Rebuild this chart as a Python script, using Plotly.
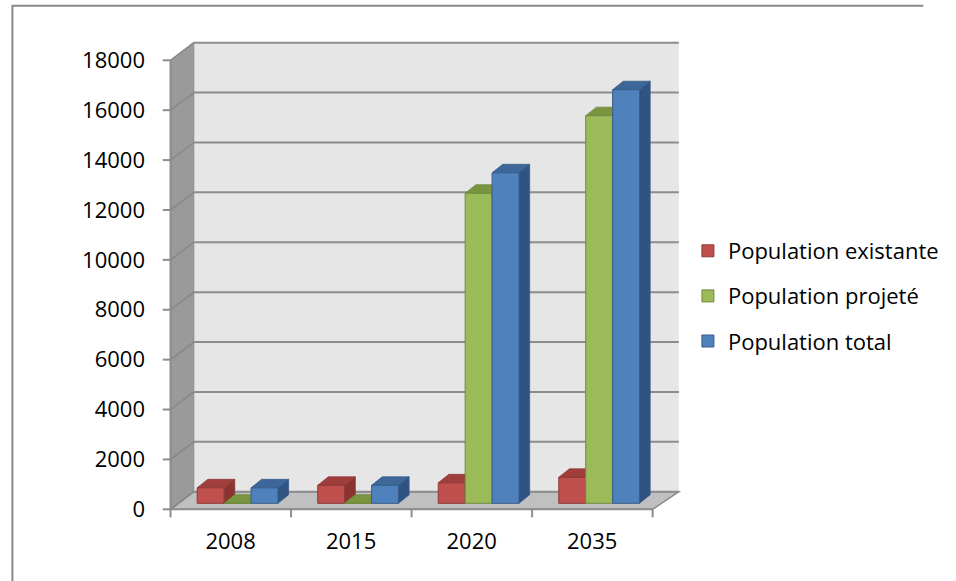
import plotly.graph_objects as go

# ---------------- data ----------------
categories = ["2008", "2015", "2020", "2035"]
pop_existante = [620, 720, 820, 1040]
pop_projete = [0, 0, 12430, 15540]
pop_total = [620, 720, 13250, 16580]
series_names = ["Population existante", "Population projeté", "Population total"]
y_ticks = list(range(0, 18001, 2000))

# ---------------- styling ----------------
front_colors = ["#c0504d", "#9bbb59", "#4f81bd"]
line_colors = ["#8c3836", "#71893f", "#385d8a"]
top_colors = ["#a03e3b", "#7a953f", "#3d6699"]
side_colors = ["#8a3330", "#6b8536", "#2f5382"]

W, H = 956, 581
PL, PR, PT, PB = 156, 702, 36, 520     # plot area in pixels
CAT_PX = 124.4                          # pixels per category
X0_PX = 240.2                           # pixel centre of first category (bar plane)
Y0_PX = 503.3                           # pixel of value 0 (bar plane)
PX_PER_UNIT = 449.0 / 18000.0           # vertical scale
BARGAP = 0.33


def xd(px):
    return (px - X0_PX) / CAT_PX


def yd(py):
    return (Y0_PX - py) / PX_PER_UNIT


def dxu(px):
    return px / CAT_PX


def dyu(px):
    return px / PX_PER_UNIT


def pxp(px):
    return (px - PL) / (PR - PL)


def pyp(py):
    return (PB - py) / (PB - PT)


n = len(categories)
ymax = y_ticks[-1]
# front plane (axes) relative to bar plane
f_dx, f_dy = dxu(-7), dyu(-6)
fl = -0.5 + f_dx
fr = n - 0.5 + f_dx
# back plane relative to front plane
xb_l = fl + dxu(24)
xb_r = fr + dxu(27)
b_dy = dyu(17.6)

fig = go.Figure()
series = [pop_existante, pop_projete, pop_total]
for k, (name, vals) in enumerate(zip(series_names, series)):
    fig.add_trace(go.Bar(
        x=list(range(n)), y=vals, name=name, legendgroup=name,
        marker=dict(color=front_colors[k], line=dict(color=line_colors[k], width=1)),
    ))

shapes = []
grid_col = "#8c8c8c"
# back wall
shapes.append(dict(type="rect", xref="x", yref="y", layer="below",
                   x0=xb_l, x1=xb_r, y0=f_dy + b_dy, y1=ymax + f_dy + b_dy,
                   fillcolor="#e6e6e6", line=dict(width=0)))
# left wall
shapes.append(dict(type="path", xref="x", yref="y", layer="below",
                   path=f"M{fl},{f_dy} L{fl},{ymax + f_dy} L{xb_l},{ymax + f_dy + b_dy} L{xb_l},{f_dy + b_dy} Z",
                   fillcolor="#9a9a9a", line=dict(color="#8a8a8a", width=1)))
# floor
shapes.append(dict(type="path", xref="x", yref="y", layer="below",
                   path=f"M{fl},{f_dy} L{fr},{f_dy} L{xb_r},{f_dy + b_dy} L{xb_l},{f_dy + b_dy} Z",
                   fillcolor="#c0c0c0", line=dict(color=grid_col, width=1.5)))
# gridlines
for v in y_ticks:
    shapes.append(dict(type="line", xref="x", yref="y", layer="below",
                       x0=xb_l, x1=xb_r, y0=v + f_dy + b_dy, y1=v + f_dy + b_dy,
                       line=dict(color=grid_col, width=2)))
    shapes.append(dict(type="line", xref="x", yref="y", layer="below",
                       x0=fl, x1=xb_l, y0=v + f_dy, y1=v + f_dy + b_dy,
                       line=dict(color="#878787", width=1.5)))
    shapes.append(dict(type="line", xref="x", yref="y", layer="below",
                       x0=fl - dxu(8), x1=fl, y0=v + f_dy, y1=v + f_dy,
                       line=dict(color=grid_col, width=2)))
# front axis lines
shapes.append(dict(type="line", xref="x", yref="y", layer="below",
                   x0=fl, x1=fl, y0=f_dy, y1=ymax + f_dy,
                   line=dict(color=grid_col, width=2)))
shapes.append(dict(type="line", xref="x", yref="y", layer="below",
                   x0=fl, x1=fr, y0=f_dy, y1=f_dy,
                   line=dict(color=grid_col, width=2)))
for i in range(n + 1):
    xi = -0.5 + i + f_dx
    shapes.append(dict(type="line", xref="x", yref="y", layer="below",
                       x0=xi, x1=xi, y0=f_dy, y1=f_dy - dyu(8),
                       line=dict(color=grid_col, width=2)))

# 3D faces of the bars
bw = (1 - BARGAP) / len(series)
ddx, ddy = dxu(11), dyu(8.5)
for k, vals in enumerate(series):
    for i, v in enumerate(vals):
        x0 = i - 0.5 + BARGAP / 2 + k * bw
        x1 = x0 + bw
        shapes.append(dict(type="path", xref="x", yref="y", layer="below",
                           path=f"M{x1},0 L{x1 + ddx},{ddy} L{x1 + ddx},{v + ddy} L{x1},{v} Z",
                           fillcolor=side_colors[k], line=dict(color=line_colors[k], width=0.8)))
        shapes.append(dict(type="path", xref="x", yref="y", layer="below",
                           path=f"M{x0},{v} L{x0 + ddx},{v + ddy} L{x1 + ddx},{v + ddy} L{x1},{v} Z",
                           fillcolor=top_colors[k], line=dict(color=line_colors[k], width=0.8)))

# outer chart border (top & left)
shapes.append(dict(type="line", xref="paper", yref="paper", layer="above",
                   x0=pxp(7), x1=pxp(948), y0=pyp(5.7), y1=pyp(5.7),
                   line=dict(color="#898989", width=2)))
shapes.append(dict(type="line", xref="paper", yref="paper", layer="above",
                   x0=pxp(7.8), x1=pxp(7.8), y0=pyp(5.7), y1=pyp(H + 5),
                   line=dict(color="#898989", width=2)))

font = dict(family="Open Sans", size=22, color="#000000")
fig.update_layout(
    width=W, height=H,
    margin=dict(l=PL, r=W - PR, t=PT, b=H - PB, pad=0),
    paper_bgcolor="white", plot_bgcolor="rgba(0,0,0,0)",
    barmode="group", bargap=BARGAP, bargroupgap=0,
    shapes=shapes,
    font=font,
    showlegend=True,
    legend=dict(x=pxp(705), xanchor="left", y=pyp(230), yanchor="top",
                font=font, tracegroupgap=13.5, bgcolor="rgba(0,0,0,0)"),
    xaxis=dict(range=[xd(PL), xd(PR)], tickvals=list(range(n)), ticktext=categories,
               showgrid=False, zeroline=False, showline=False, ticks="",
               tickfont=font, ticklabelshift=-7, ticklabelstandoff=6, fixedrange=True),
    yaxis=dict(range=[yd(PB), yd(PT)], tickvals=y_ticks, ticktext=[str(v) for v in y_ticks],
               showgrid=False, zeroline=False, showline=False, ticks="",
               tickfont=font, ticklabelshift=6, ticklabelstandoff=10, fixedrange=True),
)

fig.write_html("out.html")
